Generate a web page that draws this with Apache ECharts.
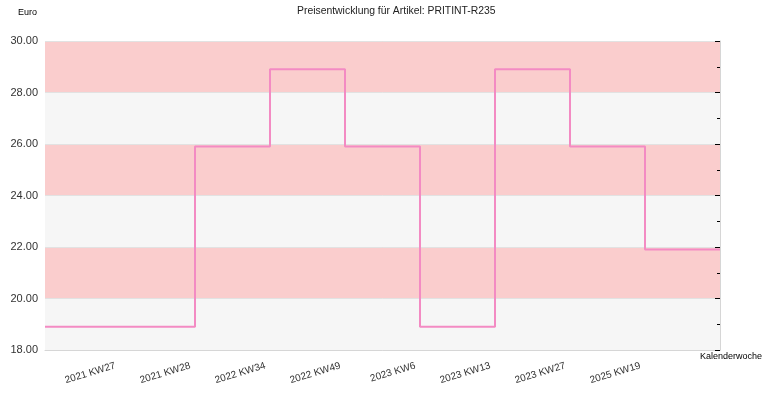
<!DOCTYPE html>
<html><head><meta charset="utf-8">
<script src="https://cdn.jsdelivr.net/npm/echarts@6/dist/echarts.min.js"></script>
<style>html,body{margin:0;padding:0;background:#fff}#c{width:770px;height:400px}</style>
</head><body><div id="c"></div>
<script>
var categories = ["2021 KW27","2021 KW28","2022 KW34","2022 KW49","2023 KW6","2023 KW13","2023 KW27","2025 KW19"];
var prices = [18.9, 25.9, 28.9, 25.9, 18.9, 28.9, 25.9, 21.9];
var yTicks = [18, 20, 22, 24, 26, 28, 30];

var n = categories.length;
var data = [[0, prices[0]]];
for (var i = 0; i < n; i++) data.push([i + 1, prices[i]]);
data.push([n + 1, prices[n - 1]]);

var font = 'Liberation Sans, Arial, sans-serif';
var chart = echarts.init(document.getElementById('c'), null, {renderer: 'canvas'});
chart.setOption({
  animation: false,
  title: {text: 'Preisentwicklung für Artikel: PRITINT-R235', left: 297, top: 6, padding: 0,
    textStyle: {fontFamily: font, fontSize: 10.4, fontWeight: 'normal', color: '#222'}},
  grid: {left: 45, right: 50, top: 41, bottom: 50, outerBoundsMode: 'none', containLabel: false},
  xAxis: {
    type: 'value', min: 0, max: n + 1, interval: 1,
    name: 'Kalenderwoche', nameLocation: 'end', nameGap: -20,
    nameTextStyle: {fontFamily: font, fontSize: 9, color: '#000', align: 'left', verticalAlign: 'top', padding: [2, 0, 0, 0]},
    axisLine: {show: true, lineStyle: {color: '#d6d6d6', width: 1}},
    axisTick: {show: false},
    splitLine: {show: false},
    axisLabel: {
      rotate: 17, margin: 14, padding: [0, 5, 0, 0], fontFamily: font, fontSize: 10, color: '#333',
      formatter: function (v) { return (v >= 1 && v <= n) ? categories[v - 1] : ''; }
    }
  },
  yAxis: [{
    type: 'value', min: yTicks[0], max: yTicks[yTicks.length - 1], interval: 2,
    name: 'Euro', nameLocation: 'end', nameGap: 24,
    nameTextStyle: {fontFamily: font, fontSize: 9, color: '#000', align: 'right', padding: [0, 8, 0, 0]},
    axisLine: {show: false}, axisTick: {show: false},
    axisLabel: {fontFamily: font, fontSize: 11, color: '#333', margin: 7,
      formatter: function (v) { return v.toFixed(2); }},
    splitLine: {show: true, lineStyle: {color: '#e2e2e2', width: 1}},
    splitArea: {show: true, areaStyle: {color: ['#f6f6f6', '#facdcd']}}
  }, {
    type: 'value', position: 'right', min: yTicks[0], max: yTicks[yTicks.length - 1], interval: 2,
    axisLine: {show: true, lineStyle: {color: '#d6d6d6', width: 1}},
    axisTick: {show: true, inside: true, length: 5, lineStyle: {color: '#000'}},
    minorTick: {show: true, splitNumber: 2, length: 3, lineStyle: {color: '#000'}},
    axisLabel: {show: false},
    splitLine: {show: false}
  }],
  series: [{
    type: 'line', step: 'end', data: data, showSymbol: false, symbol: 'none',
    lineStyle: {color: '#f38bc3', width: 2}
  }]
});
</script></body></html>
